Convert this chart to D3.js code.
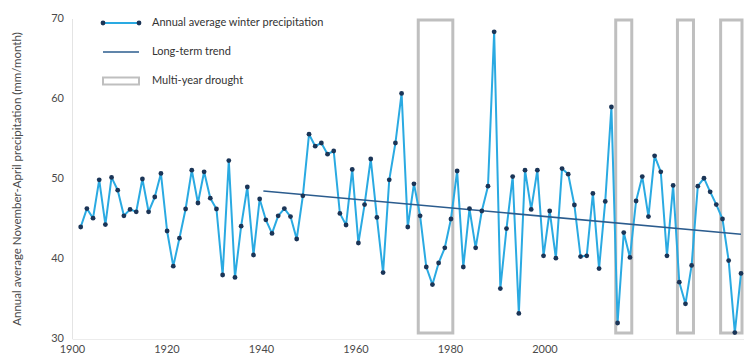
<!DOCTYPE html>
<html><head><meta charset="utf-8">
<script src="https://cdn.jsdelivr.net/npm/d3@7/dist/d3.min.js"></script>
<style>
html,body{margin:0;padding:0;background:#fff;}
svg{display:block;font-family:Lato,"Open Sans",sans-serif;}
</style></head>
<body><svg id="chart" width="744" height="356"></svg>
<script>
// Data
const firstYear = 1901;
const precip = [44.0,46.3,45.1,49.9,44.3,50.2,48.6,45.4,46.2,45.9,
50.0,45.9,47.75,50.7,43.5,39.1,42.6,46.25,51.1,47.0,
50.9,47.6,46.25,38.0,52.3,37.7,44.1,49.0,40.5,47.5,
44.9,43.2,45.4,46.3,45.3,42.5,47.9,55.6,54.1,54.5,
53.1,53.5,45.7,44.25,51.2,42.0,46.8,52.5,45.2,38.3,
49.9,54.5,60.7,44.0,49.4,45.4,39.0,36.8,39.5,41.4,
45.0,51.0,39.0,46.3,41.4,46.0,49.1,68.4,36.3,43.8,
50.3,33.2,51.1,46.2,51.1,40.4,46.0,40.1,51.3,50.6,
46.75,40.3,40.4,48.2,38.8,47.2,59.0,32.0,43.3,40.2,
47.25,50.3,45.3,52.9,50.9,40.4,49.2,37.1,34.4,39.2,
49.1,50.1,48.4,46.8,45.0,39.8,30.8,38.2];
const years = precip.map((_, i) => firstYear + i);
const trendYears = [1930.6, 2008];
const trendValues = [48.5, 43.1];
const droughtStart = [1956, 1988, 1998, 2005];
const droughtEnd = [1961, 1990, 2000, 2008];
const xTickLabels = [1900, 1920, 1940, 1960, 1980, 2000];
const yTicks = [30, 40, 50, 60, 70];
const legendLabels = ["Annual average winter precipitation", "Long-term trend", "Multi-year drought"];
const yTitle = "Annual average November-April precipitation (mm/month)";

const svg = d3.select("#chart");
const y = d3.scaleLinear().domain([30, 70]).range([339, 19]);
const x = d3.scaleLinear().domain([years[0], years[years.length - 1]]).range([80.7, 741]);
const xLab = d3.scaleLinear().domain([1900, 2000]).range([72, 544.5]);

const lineC = "#2aaae2", dotC = "#1b3557", trendC = "#2b5c8e", boxC = "#bfbfbf", textC = "#4a4a4a";

// axis lines
svg.append("line").attr("x1", 72.5).attr("x2", 72.5).attr("y1", y(70)).attr("y2", y(30))
  .attr("stroke", "#e4e4e4").attr("stroke-width", 1);
svg.append("line").attr("x1", 72.5).attr("x2", 744).attr("y1", y(30) + 0.5).attr("y2", y(30) + 0.5)
  .attr("stroke", "#ececec").attr("stroke-width", 1);

// y axis
const yAxis = d3.axisLeft(y).tickValues(yTicks).tickSize(0).tickPadding(0);
const gy = svg.append("g").attr("transform", "translate(64,-1)").call(yAxis);
gy.select(".domain").remove();
gy.selectAll("text").attr("fill", textC).style("font-size", "11px").style("font-family", "Lato, sans-serif");

// x axis labels
const xAxis = d3.axisBottom(xLab).tickValues(xTickLabels).tickFormat(d3.format("d")).tickSize(0).tickPadding(0);
const gx = svg.append("g").attr("transform", "translate(0,345)").call(xAxis);
gx.select(".domain").remove();
gx.selectAll("text").attr("fill", textC).style("font-size", "11px").style("font-family", "Lato, sans-serif");

// y title
svg.append("text").attr("transform", `translate(18,${(y(70) + y(30)) / 2}) rotate(-90)`)
  .attr("text-anchor", "middle").attr("dominant-baseline", "middle")
  .attr("fill", textC).style("font-size", "11.5px").text(yTitle);

// drought boxes
const pad = 0.3;
svg.append("g").selectAll("rect").data(droughtStart).join("rect")
  .attr("x", (d) => x(d - pad))
  .attr("width", (d, i) => Math.min(x(droughtEnd[i] + pad), 742) - x(d - pad))
  .attr("y", y(70) + 1)
  .attr("height", y(30) - 6 - y(70) - 1)
  .attr("fill", "none").attr("stroke", boxC).attr("stroke-width", 3);

// precip line
const pts = years.map((yr, i) => [yr, precip[i]]);
svg.append("path").datum(pts)
  .attr("d", d3.line().x(d => x(d[0])).y(d => y(d[1])))
  .attr("fill", "none").attr("stroke", lineC).attr("stroke-width", 2).attr("stroke-linejoin", "round");

// trend
svg.append("path").datum(trendYears.map((t, i) => [t, trendValues[i]]))
  .attr("d", d3.line().x(d => x(d[0])).y(d => y(d[1])))
  .attr("fill", "none").attr("stroke", trendC).attr("stroke-width", 1.6);

// markers
svg.append("g").selectAll("circle").data(pts).join("circle")
  .attr("cx", d => x(d[0])).attr("cy", d => y(d[1])).attr("r", 2.4).attr("fill", dotC);

// legend
const lg = svg.append("g");
const lx0 = 103, lx1 = 139, ly = [23, 52, 81];
lg.append("line").attr("x1", lx0).attr("x2", lx1).attr("y1", ly[0]).attr("y2", ly[0]).attr("stroke", lineC).attr("stroke-width", 2);
lg.selectAll("circle").data([lx0, lx1]).join("circle").attr("cx", d => d).attr("cy", ly[0]).attr("r", 2.4).attr("fill", dotC);
lg.append("line").attr("x1", lx0).attr("x2", lx1).attr("y1", ly[1]).attr("y2", ly[1]).attr("stroke", trendC).attr("stroke-width", 1.6);
lg.append("rect").attr("x", lx0).attr("y", ly[2] - 3.5).attr("width", lx1 - lx0).attr("height", 7)
  .attr("fill", "none").attr("stroke", boxC).attr("stroke-width", 2);
lg.selectAll("text").data(legendLabels).join("text")
  .attr("x", 152).attr("y", (d, i) => ly[i]).attr("dominant-baseline", "middle")
  .attr("fill", "#333").style("font-size", "11px").text(d => d);
</script></body></html>
